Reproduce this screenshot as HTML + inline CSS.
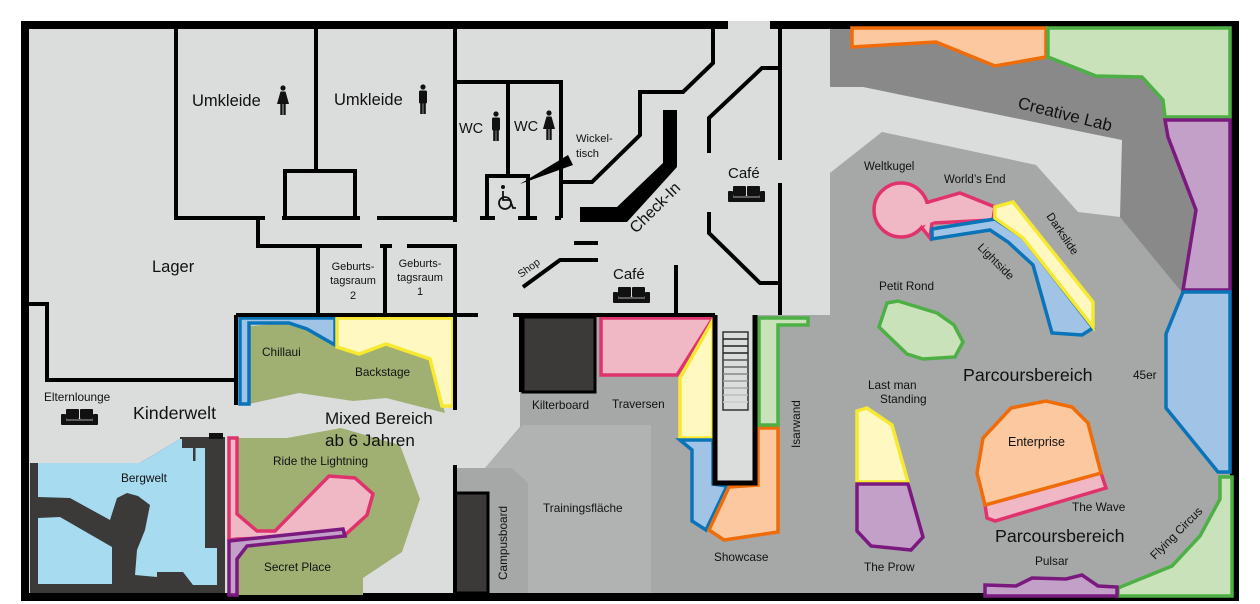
<!DOCTYPE html>
<html><head><meta charset="utf-8"><style>
html,body{margin:0;padding:0;background:#fff;}
svg{display:block;}
text{font-family:"Liberation Sans",sans-serif;fill:#111;}
</style></head><body>
<svg width="1260" height="604" viewBox="0 0 1260 604" xmlns="http://www.w3.org/2000/svg">
<defs>
<g id="sofa"><rect x="0" y="5" width="5" height="11" rx="1" fill="#111"/><rect x="32" y="5" width="5" height="11" rx="1" fill="#111"/><rect x="5" y="0" width="13" height="10" rx="1" fill="#111"/><rect x="19" y="0" width="13" height="10" rx="1" fill="#111"/><rect x="4" y="10" width="29" height="6" fill="#111"/><line x1="5" y1="11" x2="32" y2="11" stroke="#ddd" stroke-width="0.8"/></g>
<g id="man"><circle cx="5" cy="3" r="2.6" fill="#111"/><rect x="1" y="6.5" width="8" height="13" rx="1.5" fill="#111"/><rect x="2.2" y="18" width="2.5" height="12" fill="#111"/><rect x="5.3" y="18" width="2.5" height="12" fill="#111"/></g>
<g id="woman"><circle cx="6" cy="3" r="2.6" fill="#111"/><polygon points="3.5,6.5 8.5,6.5 12,19 0,19" fill="#111"/><rect x="3.3" y="18" width="2.3" height="12" fill="#111"/><rect x="6.4" y="18" width="2.3" height="12" fill="#111"/></g>
</defs>
<rect x="21" y="21" width="1218" height="580" fill="#000"/>
<rect x="29" y="29" width="1201" height="564" fill="#dbdcdc"/>
<rect x="728" y="18" width="42" height="12" fill="#dbdcdc"/>
<rect x="728" y="18" width="42" height="3" fill="#fff"/>
<rect x="830" y="29" width="400" height="280" fill="#898989"/>
<polygon points="830,173 882,132 1036,165 1078,212 1120,217 1180,290 1230,290 1230,593 455,593 455,468 485,468 520,427 520,315 830,315" fill="#a6a7a7"/>
<polygon points="830,87 863,87 1122,140 1120,217 1078,212 1036,165 882,132 830,173" fill="#dbdcdc"/>
<polygon points="523,425 651,425 651,593 528,593 528,483 512,468 485,468" fill="#b1b2b2"/>
<polygon points="852,28 1046,28 1046,57 995,66 936,42 852,47" fill="#fbc89f" stroke="#ef6c09" stroke-width="3.5"/>
<polygon points="1048,28 1230,28 1230,117 1165,117 1163,100 1142,77 1096,76 1048,57" fill="#c9e2ba" stroke="#4db045" stroke-width="3.5"/>
<polygon points="1165,120 1230,120 1230,290 1183,290 1196,210 1168,137" fill="#c3a0c8" stroke="#7a1a7f" stroke-width="3.5"/>
<polygon points="1183,292 1230,292 1230,472 1218,472 1166,408 1166,334" fill="#a1c3e6" stroke="#0a74b9" stroke-width="3.5"/>
<polygon points="1220,477 1232,477 1232,596 1118,596 1118,588 1172,566 1200,536 1220,499" fill="#c9e2ba" stroke="#4db045" stroke-width="3.5"/>
<polygon points="985,585 1016,586 1032,578 1066,579 1082,575 1098,586 1117,587 1117,596 985,596" fill="#c3a0c8" stroke="#7a1a7f" stroke-width="3.5"/>
<polygon points="925,203 960,193 995,207 993,220 932,223 930,238 922,228" fill="#f0b8c4" stroke="#e0336e" stroke-width="3.5"/>
<circle cx="901" cy="210" r="27" fill="#f0b8c4" stroke="#e0336e" stroke-width="3.5"/>
<polygon points="920,204 935,204 935,221 922,226" fill="#f0b8c4"/>
<polygon points="932,229 995,219 1023,238 1093,328 1082,335 1052,333 1033,265 1008,242 990,230 932,239" fill="#a1c3e6" stroke="#0a74b9" stroke-width="3.5"/>
<polygon points="995,207 1013,202 1093,302 1093,327 1023,238 995,218" fill="#fff8c0" stroke="#f7e930" stroke-width="3.5"/>
<polygon points="887,303 898,301 937,313 954,325 963,342 955,357 923,359 907,354 879,327" fill="#c9e2ba" stroke="#4db045" stroke-width="3.5"/>
<polygon points="857,411 867,408 892,425 908,482 857,482" fill="#fff8c0" stroke="#f7e930" stroke-width="3.5"/>
<polygon points="857,484 908,484 923,537 911,550 871,546 857,531" fill="#c3a0c8" stroke="#7a1a7f" stroke-width="3.5"/>
<polygon points="985,505 1101,473 1106,488 995,521 987,518" fill="#f0b8c4" stroke="#e0336e" stroke-width="3.5"/>
<polygon points="1011,408 1046,401 1072,407 1088,423 1101,473 985,505 977,473 983,438" fill="#fbc89f" stroke="#ef6c09" stroke-width="3.5"/>
<rect x="523" y="317" width="72" height="75" fill="#3b3a39" stroke="#000" stroke-width="3"/>
<rect x="455" y="493" width="33" height="100" fill="#3b3a39" stroke="#000" stroke-width="3"/>
<polygon points="601,318 713,318 677,375 601,375" fill="#f0b8c4" stroke="#e0336e" stroke-width="3.5"/>
<polygon points="713,320 713,438 680,438 680,378" fill="#fff8c0" stroke="#f7e930" stroke-width="3.5"/>
<polygon points="680,440 713,440 713,484 727,486 706,530 692,521 692,450" fill="#a1c3e6" stroke="#0a74b9" stroke-width="3.5"/>
<polygon points="758,428 778,428 778,532 724,540 709,530 729,487 758,485" fill="#fbc89f" stroke="#ef6c09" stroke-width="3.5"/>
<polygon points="759,318 808,318 808,325 778,325 778,425 759,425" fill="#c9e2ba" stroke="#4db045" stroke-width="3.5"/>
<path d="M715,315 L715,483 L755,483 L755,315" fill="#dbdcdc" stroke="#000" stroke-width="5"/>
<g stroke="#222" stroke-width="1.5" fill="none">
<rect x="723" y="332" width="25" height="78" fill="#dbdcdc" stroke="#333"/>
<line x1="723" y1="339" x2="748" y2="339"/><line x1="723" y1="346" x2="748" y2="346"/><line x1="723" y1="353" x2="748" y2="353"/><line x1="723" y1="360" x2="748" y2="360" stroke="#555"/><line x1="723" y1="367" x2="748" y2="367" stroke="#666"/><line x1="723" y1="374" x2="748" y2="374" stroke="#888"/><line x1="723" y1="381" x2="748" y2="381" stroke="#999"/><line x1="723" y1="388" x2="748" y2="388" stroke="#aaa"/><line x1="723" y1="395" x2="748" y2="395" stroke="#bbb"/><line x1="723" y1="402" x2="748" y2="402" stroke="#ccc"/>
</g>
<polygon points="249,326 289,323 307,329 335,347 359,354 386,344 430,359 445,413 386,398 353,401 299,393 249,404" fill="#a0b073"/>
<polygon points="240,318 335,318 335,345 307,329 289,323 249,323 249,404 240,404" fill="#a1c3e6" stroke="#0a74b9" stroke-width="3.5"/>
<polygon points="337,318 453,318 453,406 442,406 430,359 386,344 359,354 337,347" fill="#fff8c0" stroke="#f7e930" stroke-width="3.5"/>
<polygon points="229,438 287,438 341,428 400,445 420,499 402,552 363,578 363,595 229,595" fill="#a0b073"/>
<polygon points="229,438 237,438 237,514 257,531 275,531 329,476 355,478 373,494 367,515 345,535 237,539 229,540" fill="#f0b8c4" stroke="#e0336e" stroke-width="3.5"/>
<polygon points="229,541 343,529 345,536 247,546 237,559 237,595 229,595" fill="#c3a0c8" stroke="#7a1a7f" stroke-width="3.5"/>
<rect x="30" y="437" width="195" height="156" fill="#3b3a39"/>
<polygon points="30,437 180,437 180,439 140,463 30,463" fill="#dbdcdc"/>
<polygon points="38,463 140,463 180,439 182,439 182,448 205,448 205,548 217,548 217,585 193,585 183,572 157,572 157,577 135,575 137,550 145,530 150,505 138,496 127,493 117,498 110,520 70,498 38,497" fill="#a6dbf0"/>
<rect x="193" y="448" width="2.5" height="13" fill="#3b3a39"/>
<polygon points="38,518 60,517 112,547 112,584 38,584" fill="#a6dbf0"/>
<rect x="209" y="433" width="14" height="6" fill="#111"/>
<g stroke="#000" stroke-width="4" fill="none" stroke-linecap="butt">
<path d="M176,29 V218 H265"/>
<path d="M316,29 V170"/>
<path d="M282,218 H360 M285,218 V171 H355 V218"/>
<path d="M377,218 H455 M455,29 V222"/>
<path d="M455,82 H561 V218 M508,82 V175 M487,218 V176 H528 V218 M480,218 H495 M518,218 H537 M555,218 H561"/>
<path d="M258,218 V246 H362 M380,246 H392 M385,246 V315 M407,246 H455 V315 M318,246 V315"/>
<path d="M236,315 H478 M236,315 V405"/>
<path d="M29,304 H47 V380 H236"/>
<path d="M455,315 V410 M455,465 V593"/>
<path d="M713,29 V63 L683,92 H640 V135 L592,182 H562"/>
<path d="M780,29 V160 M780,183 V315"/>
<path d="M780,68 H762 L709,118 V153 M709,212 V233 L760,283 H780"/>
<path d="M676,265 V315"/>
<path d="M574,243 H598 M598,260 H560 L523,287"/>
<path d="M513,315 H600 M600,315 H715"/>
<path d="M521,315 V392"/>
</g>
<polygon points="580,207 617,207 663,163 663,110 677,110 677,167 627,222 580,222" fill="#000"/>
<polygon points="520,184 568,155 573,165" fill="#000"/>
<g fill="none" stroke="#111" stroke-width="1.8"><circle cx="505" cy="203" r="6"/><path d="M503,191 V200 H510 L513,208 H516"/></g><circle cx="503" cy="187" r="2" fill="#111"/>
<use href="#woman" x="277" y="85"/>
<use href="#man" x="418" y="84"/>
<use href="#man" x="491" y="111"/>
<use href="#woman" x="543" y="110"/>
<use href="#sofa" x="728" y="186"/>
<use href="#sofa" x="613" y="287"/>
<use href="#sofa" x="61" y="409"/>
<text x="192" y="106" font-size="16.5">Umkleide</text>
<text x="334" y="105" font-size="16.5">Umkleide</text>
<text x="459" y="133" font-size="14.5">WC</text>
<text x="514" y="131" font-size="14.5">WC</text>
<text x="576" y="142" font-size="11.2">Wickel-</text>
<text x="576" y="157" font-size="11.2">tisch</text>
<text x="152" y="272" font-size="16.5">Lager</text>
<text x="353" y="270" font-size="11" text-anchor="middle">Geburts-</text>
<text x="353" y="284" font-size="11" text-anchor="middle">tagsraum</text>
<text x="353" y="299" font-size="11" text-anchor="middle">2</text>
<text x="420" y="267" font-size="11" text-anchor="middle">Geburts-</text>
<text x="420" y="281" font-size="11" text-anchor="middle">tagsraum</text>
<text x="420" y="295" font-size="11" text-anchor="middle">1</text>
<text x="0" y="0" font-size="10.5" transform="translate(521,278) rotate(-36)">Shop</text>
<text x="0" y="0" font-size="16" transform="translate(636,234) rotate(-45)">Check-In</text>
<text x="728" y="178" font-size="15">Café</text>
<text x="613" y="279" font-size="15">Café</text>
<text x="1017" y="108" font-size="17" transform="rotate(14 1017 108)">Creative Lab</text>
<text x="864" y="170" font-size="11.5">Weltkugel</text>
<text x="944" y="183" font-size="11.5">World’s End</text>
<text x="0" y="0" font-size="11.5" transform="translate(1046,216) rotate(56)">Darkslide</text>
<text x="0" y="0" font-size="11.5" transform="translate(977,248) rotate(45)">Lightside</text>
<text x="879" y="290" font-size="11.8">Petit Rond</text>
<text x="963" y="381" font-size="17.8">Parcoursbereich</text>
<text x="1133" y="379" font-size="11.8">45er</text>
<text x="868" y="389" font-size="11.8">Last man</text>
<text x="880" y="403" font-size="11.8">Standing</text>
<text x="1008" y="446" font-size="12.5">Enterprise</text>
<text x="1072" y="511" font-size="11.8">The Wave</text>
<text x="995" y="542" font-size="17.8">Parcoursbereich</text>
<text x="1035" y="565" font-size="11.8">Pulsar</text>
<text x="864" y="571" font-size="11.8">The Prow</text>
<text x="0" y="0" font-size="11.8" transform="translate(1155,560) rotate(-45)">Flying Circus</text>
<text x="714" y="561" font-size="11.8">Showcase</text>
<text x="0" y="0" font-size="11.8" transform="translate(800,448) rotate(-90)">Isarwand</text>
<text x="532" y="409" font-size="11.8">Kilterboard</text>
<text x="612" y="408" font-size="11.8">Traversen</text>
<text x="543" y="512" font-size="11.8">Trainingsfläche</text>
<text x="0" y="0" font-size="11.8" transform="translate(507,580) rotate(-90)">Campusboard</text>
<text x="262" y="356" font-size="11.8">Chillaui</text>
<text x="355" y="376" font-size="11.8">Backstage</text>
<text x="44" y="401" font-size="11.8">Elternlounge</text>
<text x="133" y="419" font-size="17.8">Kinderwelt</text>
<text x="325" y="424" font-size="17">Mixed Bereich</text>
<text x="325" y="446" font-size="17">ab 6 Jahren</text>
<text x="273" y="465" font-size="11.8">Ride the Lightning</text>
<text x="121" y="482" font-size="11.8">Bergwelt</text>
<text x="264" y="571" font-size="11.8">Secret Place</text>
</svg>
</body></html>
